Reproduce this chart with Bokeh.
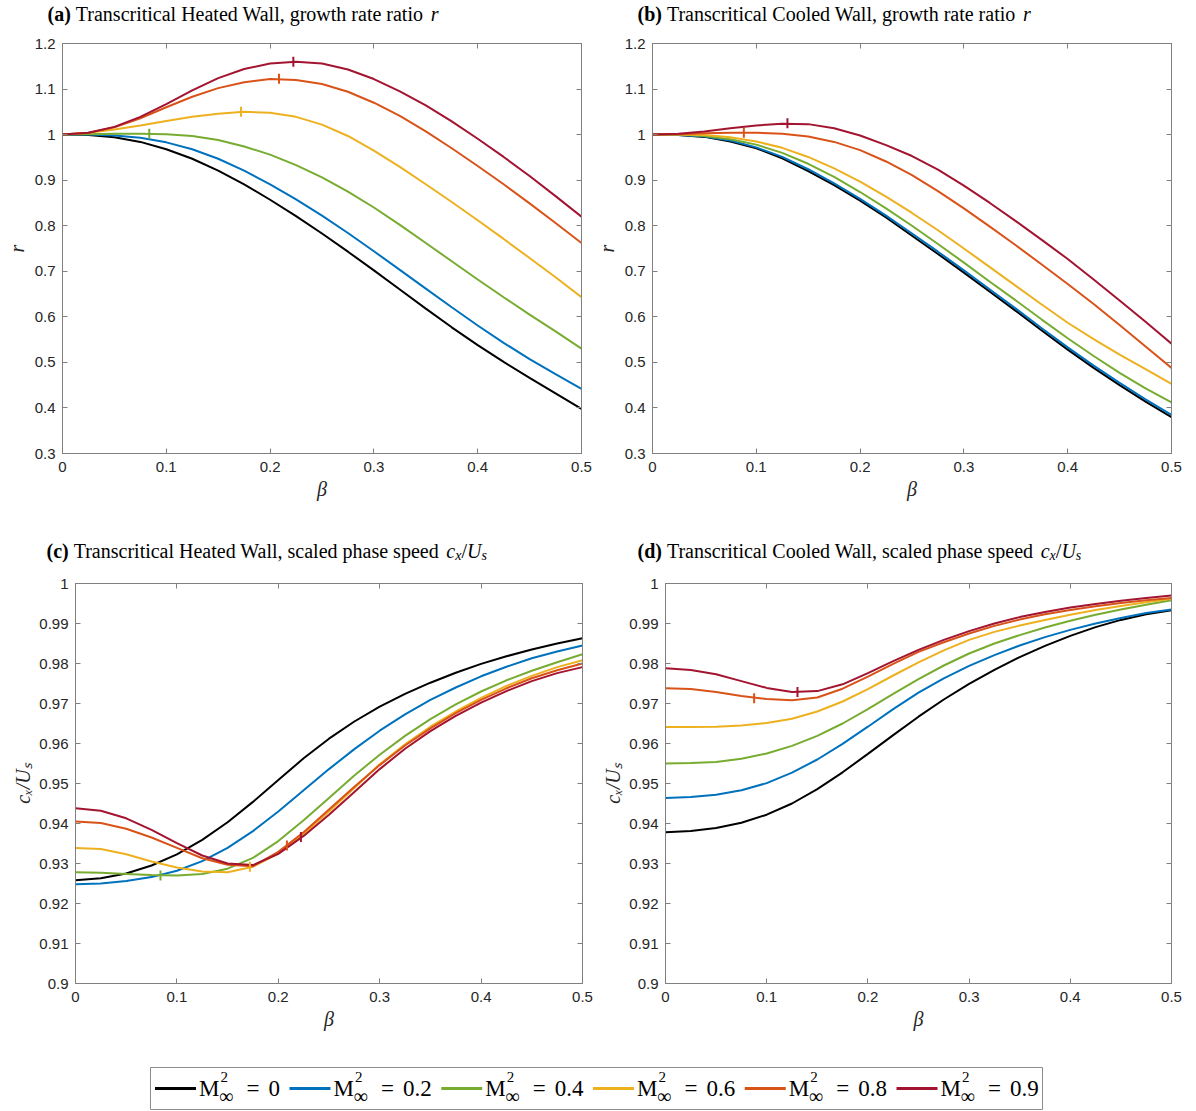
import math
from bokeh.plotting import figure
from bokeh.models import (Range1d, FixedTicker, LinearAxis, Label, CustomJSTickFormatter,
                          CustomLabelingPolicy)
from bokeh.layouts import column, row
from bokeh.embed import file_html
from bokeh.resources import INLINE

# ---------------- data ----------------
beta = [0.000, 0.025, 0.050, 0.075, 0.100, 0.125, 0.150, 0.175, 0.200, 0.225, 0.250,
        0.275, 0.300, 0.325, 0.350, 0.375, 0.400, 0.425, 0.450, 0.475, 0.500]

mach_labels = ["0", "0.2", "0.4", "0.6", "0.8", "0.9"]

# (a) heated wall, growth rate ratio r
r_heated_m0 = [1.000, 0.999, 0.994, 0.984, 0.968, 0.947, 0.921, 0.891, 0.857, 0.821, 0.783,
               0.743, 0.702, 0.660, 0.618, 0.577, 0.538, 0.501, 0.466, 0.432, 0.398]
r_heated_m02 = [1.000, 1.000, 0.998, 0.993, 0.983, 0.968, 0.947, 0.921, 0.891, 0.858, 0.822,
                0.784, 0.744, 0.703, 0.662, 0.621, 0.581, 0.543, 0.507, 0.474, 0.442]
r_heated_m04 = [1.000, 1.001, 1.002, 1.002, 1.001, 0.997, 0.988, 0.974, 0.956, 0.933, 0.906,
                0.875, 0.840, 0.802, 0.762, 0.722, 0.682, 0.643, 0.605, 0.568, 0.530]
r_heated_m06 = [1.000, 1.004, 1.011, 1.020, 1.030, 1.039, 1.046, 1.050, 1.048, 1.039, 1.022,
                0.997, 0.965, 0.929, 0.891, 0.852, 0.812, 0.771, 0.729, 0.687, 0.643]
r_heated_m08 = [1.000, 1.004, 1.016, 1.036, 1.060, 1.083, 1.102, 1.115, 1.122, 1.120, 1.111,
                1.094, 1.070, 1.041, 1.007, 0.970, 0.931, 0.891, 0.849, 0.806, 0.762]
r_heated_m09 = [1.000, 1.004, 1.017, 1.039, 1.067, 1.097, 1.124, 1.144, 1.156, 1.160, 1.156,
                1.143, 1.122, 1.095, 1.064, 1.029, 0.991, 0.951, 0.909, 0.865, 0.820]

# (b) cooled wall, growth rate ratio r
r_cooled_m0 = [1.000, 0.999, 0.995, 0.985, 0.970, 0.948, 0.920, 0.889, 0.855, 0.818, 0.778,
               0.738, 0.697, 0.655, 0.613, 0.570, 0.528, 0.488, 0.450, 0.414, 0.380]
r_cooled_m02 = [1.000, 0.999, 0.996, 0.987, 0.972, 0.951, 0.924, 0.893, 0.859, 0.822, 0.783,
                0.743, 0.702, 0.660, 0.618, 0.575, 0.533, 0.493, 0.455, 0.419, 0.385]
r_cooled_m04 = [1.000, 1.000, 0.997, 0.990, 0.978, 0.960, 0.936, 0.907, 0.874, 0.838, 0.800,
                0.760, 0.719, 0.677, 0.636, 0.594, 0.553, 0.514, 0.477, 0.443, 0.412]
r_cooled_m06 = [1.000, 1.000, 0.999, 0.994, 0.985, 0.971, 0.951, 0.926, 0.897, 0.864, 0.828,
                0.790, 0.750, 0.709, 0.668, 0.627, 0.587, 0.551, 0.517, 0.485, 0.453]
r_cooled_m08 = [1.000, 1.001, 1.003, 1.004, 1.004, 1.002, 0.996, 0.984, 0.966, 0.941, 0.911,
                0.876, 0.838, 0.798, 0.757, 0.715, 0.672, 0.628, 0.582, 0.535, 0.488]
r_cooled_m09 = [1.000, 1.002, 1.007, 1.014, 1.020, 1.024, 1.023, 1.014, 0.998, 0.977, 0.953,
                0.923, 0.888, 0.850, 0.810, 0.769, 0.727, 0.682, 0.636, 0.589, 0.541]

# (c) heated wall, scaled phase speed c_x/U_s
c_heated_m0 = [0.9258, 0.9263, 0.9275, 0.9295, 0.9323, 0.9359, 0.9403, 0.9454, 0.9509, 0.9563, 0.9612,
               0.9655, 0.9692, 0.9724, 0.9752, 0.9777, 0.9799, 0.9818, 0.9835, 0.9850, 0.9863]
c_heated_m02 = [0.9248, 0.9250, 0.9256, 0.9266, 0.9282, 0.9306, 0.9339, 0.9381, 0.9430, 0.9483, 0.9536,
                0.9586, 0.9632, 0.9673, 0.9709, 0.9740, 0.9768, 0.9792, 0.9813, 0.9830, 0.9845]
c_heated_m04 = [0.9278, 0.9277, 0.9274, 0.9271, 0.9270, 0.9274, 0.9287, 0.9314, 0.9356, 0.9408, 0.9464,
                0.9520, 0.9572, 0.9619, 0.9661, 0.9698, 0.9730, 0.9758, 0.9782, 0.9803, 0.9823]
c_heated_m06 = [0.9339, 0.9336, 0.9323, 0.9305, 0.9290, 0.9280, 0.9278, 0.9292, 0.9325, 0.9374, 0.9430,
                0.9489, 0.9548, 0.9598, 0.9642, 0.9680, 0.9714, 0.9744, 0.9769, 0.9791, 0.9808]
c_heated_m08 = [0.9405, 0.9401, 0.9387, 0.9365, 0.9339, 0.9313, 0.9297, 0.9293, 0.9329, 0.9378, 0.9435,
                0.9492, 0.9546, 0.9595, 0.9638, 0.9676, 0.9709, 0.9738, 0.9763, 0.9783, 0.9800]
c_heated_m09 = [0.9438, 0.9432, 0.9413, 0.9384, 0.9351, 0.9320, 0.9300, 0.9296, 0.9324, 0.9369, 0.9422,
                0.9479, 0.9536, 0.9587, 0.9631, 0.9669, 0.9702, 0.9731, 0.9756, 0.9776, 0.9791]

# (d) cooled wall, scaled phase speed c_x/U_s
c_cooled_m0 = [0.9378, 0.9381, 0.9389, 0.9402, 0.9422, 0.9450, 0.9486, 0.9528, 0.9574, 0.9621, 0.9667,
               0.9710, 0.9749, 0.9784, 0.9816, 0.9844, 0.9869, 0.9891, 0.9909, 0.9923, 0.9933]
c_cooled_m02 = [0.9464, 0.9466, 0.9472, 0.9483, 0.9501, 0.9527, 0.9560, 0.9599, 0.9642, 0.9686, 0.9727,
                0.9763, 0.9794, 0.9821, 0.9845, 0.9866, 0.9884, 0.9900, 0.9914, 0.9926, 0.9935]
c_cooled_m04 = [0.9550, 0.9551, 0.9554, 0.9562, 0.9575, 0.9594, 0.9619, 0.9650, 0.9686, 0.9724, 0.9761,
                0.9795, 0.9825, 0.9850, 0.9871, 0.9890, 0.9907, 0.9922, 0.9935, 0.9947, 0.9958]
c_cooled_m06 = [0.9641, 0.9641, 0.9642, 0.9645, 0.9651, 0.9662, 0.9680, 0.9705, 0.9736, 0.9770, 0.9803,
                0.9833, 0.9859, 0.9879, 0.9895, 0.9909, 0.9922, 0.9934, 0.9944, 0.9953, 0.9962]
c_cooled_m08 = [0.9738, 0.9736, 0.9729, 0.9719, 0.9711, 0.9708, 0.9715, 0.9737, 0.9767, 0.9799, 0.9829,
                0.9853, 0.9875, 0.9894, 0.9910, 0.9923, 0.9934, 0.9943, 0.9951, 0.9958, 0.9964]
c_cooled_m09 = [0.9788, 0.9784, 0.9773, 0.9756, 0.9739, 0.9729, 0.9731, 0.9748, 0.9776, 0.9806, 0.9834,
                0.9859, 0.9881, 0.9900, 0.9916, 0.9929, 0.9940, 0.9949, 0.9957, 0.9964, 0.9970]

# extremum markers (beta, value, series)
peak_beta_a = [0.0836, 0.172, 0.2086, 0.2224]
peak_val_a = [1.002, 1.050, 1.1226, 1.160]
peak_mach_a = ["0.4", "0.6", "0.8", "0.9"]
peak_beta_b = [0.088, 0.130]
peak_val_b = [1.004, 1.025]
peak_mach_b = ["0.8", "0.9"]
peak_beta_c = [0.0838, 0.172, 0.2085, 0.2223]
peak_val_c = [0.9270, 0.9292, 0.9345, 0.9366]
peak_mach_c = ["0.4", "0.6", "0.8", "0.9"]
peak_beta_d = [0.0876, 0.1304]
peak_val_d = [0.9713, 0.9729]
peak_mach_d = ["0.8", "0.9"]

# ticks
x_ticks = [0, 0.1, 0.2, 0.3, 0.4, 0.5]
r_ticks = [0.3, 0.4, 0.5, 0.6, 0.7, 0.8, 0.9, 1.0, 1.1, 1.2]
c_ticks = [0.9, 0.91, 0.92, 0.93, 0.94, 0.95, 0.96, 0.97, 0.98, 0.99, 1.0]

# ---------------- styles ----------------
COLORS = {"0": "#000000", "0.2": "#0072BD", "0.4": "#77AC30",
          "0.6": "#EDB120", "0.8": "#D95319", "0.9": "#A2142F"}
AX = "#808080"
TXT = "#262626"
SERIF = "Liberation Serif"
SANS = "Liberation Sans"
TITLE_SIZE = 20
SUB_SIZE = 14
PAGE_W = 1196

TIMES_R = {' ': 250, '(': 333, ')': 333, ',': 250, '/': 278, '=': 564, '.': 250,
           'a': 444, 'b': 500, 'c': 444, 'd': 500, 'e': 444, 'g': 500, 'h': 500, 'i': 278,
           'l': 278, 'n': 500, 'o': 500, 'p': 500, 'r': 333, 's': 389, 't': 278, 'w': 722,
           'x': 500, 'T': 611, 'H': 722, 'W': 944, 'C': 667, 'U': 722, 'M': 889,
           '0': 500, '2': 500, '4': 500, '6': 500, '8': 500, '9': 500}
TIMES_B = {' ': 250, '(': 333, ')': 333, 'a': 500, 'b': 556, 'c': 444, 'd': 556}
TIMES_I = {' ': 250, 'r': 389, 'c': 444, 'x': 444, 'U': 722, 's': 389, '/': 278}


def text_width(s, style, size):
    table = {"bold": TIMES_B, "italic": TIMES_I}.get(style, TIMES_R)
    return sum(table.get(ch, 500) for ch in s) / 1000.0 * size


FMT = CustomJSTickFormatter(code="return String(Math.round(tick*10000)/10000);")
NO_LABELS = CustomLabelingPolicy(code="for (const i of indices) { indices.unset(i) }\nreturn indices")


def blank_strip(h):
    s = figure(frame_width=PAGE_W, frame_height=h, min_border=0, x_range=Range1d(0, PAGE_W),
               y_range=Range1d(0, h), output_backend="svg", toolbar_location=None, tools="",
               x_axis_location=None, y_axis_location=None)
    s.xgrid.visible = False
    s.ygrid.visible = False
    s.outline_line_color = None
    s.border_fill_color = "white"
    s.background_fill_color = "white"
    return s


def add_title(s, pieces, x_start, mid):
    x = x_start
    for txt, style, sub in pieces:
        size = SUB_SIZE if sub else TITLE_SIZE
        stripped = txt.strip()
        lead = len(txt) - len(txt.lstrip())
        x += text_width(" " * lead, "normal", size)
        s.add_layout(Label(x=x, y=mid - (5 if sub else 0), text=stripped, text_font=SERIF,
                           text_font_size=f"{size}px",
                           text_font_style=style if style in ("bold", "italic") else "normal",
                           text_color="#000000", text_baseline="middle", text_align="left"))
        x += text_width(stripped, style, size)
        trail = len(txt) - len(txt.rstrip())
        x += text_width(" " * trail, "normal", size)


def make_panel(series, pk_b, pk_v, pk_m, yr, yticks, fw, fh, borders, ylabel, ylab_standoff):
    lb, rb, tb, bb = borders
    p = figure(frame_width=fw, frame_height=fh, min_border_left=lb, min_border_right=rb,
               min_border_top=tb, min_border_bottom=bb, x_range=Range1d(0, 0.5),
               y_range=Range1d(*yr), output_backend="svg", toolbar_location=None, tools="")
    p.xgrid.visible = False
    p.ygrid.visible = False
    p.outline_line_color = AX
    p.outline_line_width = 1
    p.background_fill_color = "white"
    p.border_fill_color = "white"

    for m, ys in zip(mach_labels, series):
        p.line(beta, ys, line_color=COLORS[m], line_width=2)
    p.scatter(pk_b, pk_v, marker="dash", angle=math.pi / 2, size=10,
              line_color=[COLORS[m] for m in pk_m], line_width=2)

    for ax, ticks in ((p.xaxis[0], x_ticks), (p.yaxis[0], yticks)):
        ax.ticker = FixedTicker(ticks=ticks)
        ax.formatter = FMT
        ax.major_tick_in = 5
        ax.major_tick_out = 0
        ax.minor_tick_line_color = None
        ax.axis_line_color = AX
        ax.major_tick_line_color = AX
        ax.major_label_text_font = SANS
        ax.major_label_text_font_size = "15px"
        ax.major_label_text_color = TXT
        ax.axis_label_text_font = SERIF
        ax.axis_label_text_font_style = "italic"
        ax.axis_label_text_font_size = "20px"
        ax.axis_label_text_color = TXT
    p.xaxis[0].major_label_standoff = 8
    p.yaxis[0].major_label_standoff = 7
    p.xaxis[0].axis_label = "β"
    p.xaxis[0].axis_label_standoff = 3
    p.yaxis[0].axis_label = ylabel
    p.yaxis[0].axis_label_standoff = ylab_standoff

    for loc, ticks in (("right", yticks), ("above", x_ticks)):
        ax = LinearAxis(ticker=FixedTicker(ticks=ticks), major_label_policy=NO_LABELS,
                        major_label_text_font_size="0px",
                        major_label_standoff=0, major_tick_in=5, major_tick_out=0,
                        minor_tick_line_color=None, axis_line_color=AX, major_tick_line_color=AX)
        p.add_layout(ax, loc)
    return p


title_a = [("(a)", "bold", False), (" Transcritical Heated Wall, growth rate ratio ", "normal", False),
           ("r", "italic", False)]
title_b = [("(b)", "bold", False), (" Transcritical Cooled Wall, growth rate ratio ", "normal", False),
           ("r", "italic", False)]
title_c = [("(c)", "bold", False), (" Transcritical Heated Wall, scaled phase speed ", "normal", False),
           ("c", "italic", False), ("x", "italic", True), ("/", "normal", False),
           ("U", "italic", False), ("s", "italic", True)]
title_d = [("(d)", "bold", False), (" Transcritical Cooled Wall, scaled phase speed ", "normal", False),
           ("c", "italic", False), ("x", "italic", True), ("/", "normal", False),
           ("U", "italic", False), ("s", "italic", True)]

# title strips (y = vertical middle of the text line)
strip1 = blank_strip(30)
add_title(strip1, title_a, 47, 17)
add_title(strip1, title_b, 637, 17)
strip2 = blank_strip(50)
add_title(strip2, title_c, 46, 20)
add_title(strip2, title_d, 637, 20)

pa = make_panel([r_heated_m0, r_heated_m02, r_heated_m04, r_heated_m06, r_heated_m08, r_heated_m09],
                peak_beta_a, peak_val_a, peak_mach_a, (0.3, 1.2), r_ticks, 519, 410,
                (62, 11, 13, 67), "r", 4)
pb = make_panel([r_cooled_m0, r_cooled_m02, r_cooled_m04, r_cooled_m06, r_cooled_m08, r_cooled_m09],
                peak_beta_b, peak_val_b, peak_mach_b, (0.3, 1.2), r_ticks, 519, 410,
                (60, 25, 13, 67), "r", 4)
pc = make_panel([c_heated_m0, c_heated_m02, c_heated_m04, c_heated_m06, c_heated_m08, c_heated_m09],
                peak_beta_c, peak_val_c, peak_mach_c, (0.9, 1.0), c_ticks, 507, 400,
                (75, 11, 13, 62), "cₓ/Uₛ", 2)
pd_ = make_panel([c_cooled_m0, c_cooled_m02, c_cooled_m04, c_cooled_m06, c_cooled_m08, c_cooled_m09],
                 peak_beta_d, peak_val_d, peak_mach_d, (0.9, 1.0), c_ticks, 506, 400,
                 (72, 25, 13, 62), "cₓ/Uₛ", 2)

# ---------------- legend strip ----------------
LH = 66
leg = blank_strip(LH)
box_left, box_right, box_bottom, box_top = 150, 1042, 2, 44
leg.quad(left=[box_left], right=[box_right], bottom=[box_bottom], top=[box_top],
         fill_color="white", line_color="#8c8c8c", line_width=1)

LEG_SIZE = 23
row_y = 23
x0 = box_left + 4.5
for m in mach_labels:
    leg.line([x0, x0 + 41], [row_y, row_y], line_color=COLORS[m], line_width=3)
    leg.add_layout(Label(x=x0 + 44, y=23.5, text="M", text_font=SERIF,
                         text_font_size=f"{LEG_SIZE}px", text_color="#000000",
                         text_baseline="middle"))
    leg.add_layout(Label(x=x0 + 65.5, y=34.5, text="2", text_font=SERIF, text_font_size="15px",
                         text_color="#000000", text_baseline="middle"))
    leg.add_layout(Label(x=x0 + 64, y=15.5, text="∞", text_font=SERIF, text_font_size="20px",
                         text_color="#000000", text_baseline="middle"))
    leg.add_layout(Label(x=x0 + 91.5, y=23.5, text="=", text_font=SERIF,
                         text_font_size=f"{LEG_SIZE}px", text_color="#000000",
                         text_baseline="middle"))
    leg.add_layout(Label(x=x0 + 113.5, y=23.5, text=m, text_font=SERIF,
                         text_font_size=f"{LEG_SIZE}px", text_color="#000000",
                         text_baseline="middle"))
    x0 += 113.5 + text_width(m, "normal", LEG_SIZE) + 9.5

layout = column(strip1, row(pa, pb), strip2, row(pc, pd_), leg)
open("out.html", "w").write(file_html(layout, INLINE))
